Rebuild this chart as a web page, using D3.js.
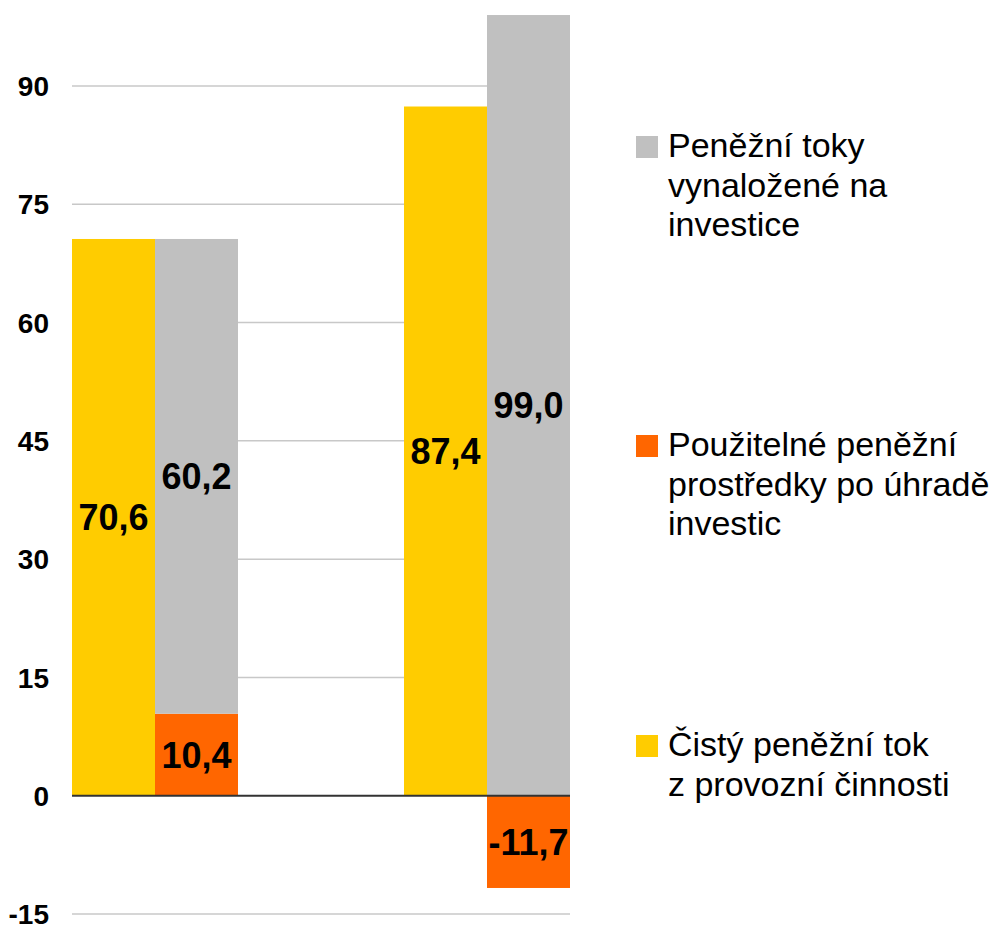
<!DOCTYPE html>
<html>
<head>
<meta charset="utf-8">
<script src="https://cdn.jsdelivr.net/npm/d3@7"></script>
<style>
  body { margin: 0; background: #fff; }
  svg { font-family: "Liberation Sans", Arial, sans-serif; }
</style>
</head>
<body>
<div id="chart"></div>
<script>
const years = ["Období 1", "Období 2"];
const cistyTok = [70.6, 87.4];          // Čistý peněžní tok z provozní činnosti
const pouzitelne = [10.4, -11.7];       // Použitelné peněžní prostředky po úhradě investic
const investice = [60.2, 99.0];         // Peněžní toky vynaložené na investice
const yTicks = [-15, 0, 15, 30, 45, 60, 75, 90];

const legendItems = [
  {color: "#c0c0c0", lines: ["Peněžní toky", "vynaložené na", "investice"], y: 136},
  {color: "#ff6600", lines: ["Použitelné peněžní", "prostředky po úhradě", "investic"], y: 435},
  {color: "#ffcc00", lines: ["Čistý peněžní tok", "z provozní činnosti"], y: 735}
];

const width = 996, height = 925;
const svg = d3.select("#chart").append("svg").attr("width", width).attr("height", height);

const y = d3.scaleLinear().domain([-15, 90]).range([914, 86]);
const x = d3.scaleBand().domain(years).range([72, 570]).paddingInner(0.5).paddingOuter(0);
const xIn = d3.scaleBand().domain(["tok", "stack"]).range([0, x.bandwidth()]);

// mřížka
svg.append("g").selectAll("line")
  .data(yTicks.filter(d => d !== 0))
  .enter().append("line")
  .attr("x1", 72).attr("x2", 570)
  .attr("y1", d => y(d)).attr("y2", d => y(d))
  .attr("stroke", "#c8c8c8").attr("stroke-width", 1.5);

// popisky osy y
svg.append("g").selectAll("text")
  .data(yTicks)
  .enter().append("text")
  .attr("x", 49).attr("y", d => y(d))
  .attr("dy", "0.36em")
  .attr("text-anchor", "end")
  .style("font-size", "28px").style("font-weight", "bold")
  .text(d => d);

const fmt = v => v.toFixed(1).replace(".", ",");

// žluté sloupce
svg.append("g").selectAll("rect")
  .data(years)
  .enter().append("rect")
  .attr("x", d => x(d) + xIn("tok"))
  .attr("width", xIn.bandwidth())
  .attr("y", (d, i) => y(cistyTok[i]))
  .attr("height", (d, i) => y(0) - y(cistyTok[i]))
  .attr("fill", "#ffcc00");

// skládané sloupce
const table = years.map((d, i) => ({year: d, pouzitelne: pouzitelne[i], investice: investice[i]}));
const series = d3.stack().keys(["pouzitelne", "investice"]).offset(d3.stackOffsetDiverging)(table);
const colors = {pouzitelne: "#ff6600", investice: "#c0c0c0"};

series.forEach(s => {
  svg.append("g").selectAll("rect")
    .data(s)
    .enter().append("rect")
    .attr("x", d => x(d.data.year) + xIn("stack"))
    .attr("width", xIn.bandwidth())
    .attr("y", d => y(Math.max(d[0], d[1])))
    .attr("height", d => Math.abs(y(d[0]) - y(d[1])))
    .attr("fill", colors[s.key]);
});

// nulová čára
svg.append("line")
  .attr("x1", 72).attr("x2", 570)
  .attr("y1", y(0)).attr("y2", y(0))
  .attr("stroke", "#333").attr("stroke-width", 2);

// hodnoty
const labels = [];
years.forEach((yr, i) => {
  labels.push({x: x(yr) + xIn("tok") + xIn.bandwidth() / 2, y: y(cistyTok[i] / 2), t: fmt(cistyTok[i])});
});
series.forEach(s => {
  s.forEach(d => {
    labels.push({x: x(d.data.year) + xIn("stack") + xIn.bandwidth() / 2, y: y((d[0] + d[1]) / 2), t: fmt(d.data[s.key])});
  });
});
svg.append("g").selectAll("text")
  .data(labels)
  .enter().append("text")
  .attr("x", d => d.x).attr("y", d => d.y)
  .attr("dy", "0.36em")
  .attr("text-anchor", "middle")
  .style("font-size", "36px").style("font-weight", "bold")
  .text(d => d.t);

// legenda
const leg = svg.append("g").selectAll("g")
  .data(legendItems)
  .enter().append("g")
  .attr("transform", d => `translate(636,${d.y})`);
leg.append("rect").attr("width", 22).attr("height", 22).attr("fill", d => d.color);
leg.append("text")
  .style("font-size", "34px")
  .selectAll("tspan")
  .data(d => d.lines)
  .enter().append("tspan")
  .attr("x", 32)
  .attr("y", (d, i) => 21 + i * 39.5)
  .text(d => d);
</script>
</body>
</html>
